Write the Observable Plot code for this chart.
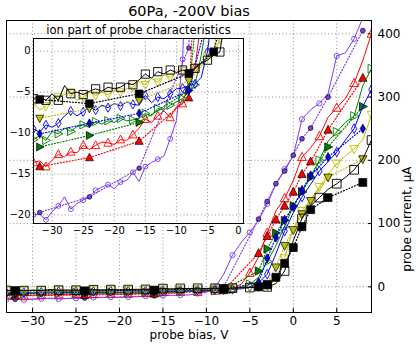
<!DOCTYPE html>
<html><head><meta charset="utf-8">
<script src="https://cdn.jsdelivr.net/npm/d3@7"></script>
<script src="https://cdn.jsdelivr.net/npm/@observablehq/plot@0.6"></script>
<style>
body{margin:0;background:#fff;}
#wrap{position:relative;width:416px;height:344px;overflow:hidden;}
#wrap svg{position:absolute;}
</style></head><body><div id="wrap"></div>
<script>
// ---------- data ----------
const biasFine = [-33,-32,-31,-30,-29,-28,-27,-26,-25,-24,-23,-22,-21,-20,-19,-18,-17,-16,-15,-14,-13,-12,-11,-10,-9,-8,-7,-6,-5,-4,-3,-2,-1,0,1,2,3,4,5,6,7,8,9];
const biasCoarse = [-32,-24,-16,-8,-4,-3,-2,-1,0,1,2,4,8];

const blackFine  = [-5.8,-5.5,-6.0,-5.2,-6.0,-4.2,-5.2,-5.0,-5.3,-4.9,-4.6,-4.9,-4.4,-4.6,-4.4,-3.9,-4.1,-3.5,-2.8,-3.3,-2.5,-2.8,-2.3,-2.6,-2.3,-2.4,-2.1,-1.5,-1.1,-0.5,-0.1,5,25,73,108,128,141,154,163,173,185,202,232];
const yellowFine = [-6.3,-7.2,-6.7,-5.8,-5.6,-5.3,-5.0,-6.0,-5.6,-5.0,-5.4,-5.0,-5.3,-4.8,-5.0,-4.6,-4.4,-3.7,-4.1,-3.3,-3.8,-2.9,-3.2,-2.6,-2.4,-2.5,-2.0,-1.5,-0.7,-0.5,1.5,10,45,92,120,138,158,178,195,207,218,232,272];
const blueFine   = [-9.5,-9.9,-9.0,-9.3,-8.8,-7.9,-7.3,-7.9,-7.4,-6.8,-7.2,-6.6,-6.9,-6.4,-6.7,-6.2,-6.5,-6.6,-5.4,-6.3,-5.6,-5.8,-5.2,-4.6,-4.5,-4.2,-4.0,-3.2,-0.1,6,20,52,88,117,142,162,183,198,213,232,250,285,312];
const greenFine  = [-10.8,-10.3,-10.9,-9.8,-10.1,-9.4,-9.8,-9.2,-9.0,-9.3,-8.6,-8.9,-8.5,-8.7,-8.2,-8.5,-8.4,-8.2,-7.6,-7.9,-7.0,-7.2,-6.6,-6.2,-5.8,-5.0,-4.1,-0.5,4,15,40,65,95,128,150,175,200,230,245,260,270,318,345];
const redFine    = [-13.6,-13.4,-14.1,-13.3,-12.6,-12.9,-12.3,-12.4,-11.5,-12.0,-11.5,-11.1,-11.2,-11.4,-10.8,-10.9,-10.2,-9.4,-8.3,-8.7,-7.9,-7.3,-8.1,-6.8,-6.4,-3.7,-2,4,22,47,85,120,140,168,205,220,238,268,283,298,322,358,400];
const purpleFine = [-20.0,-19.9,-20.6,-19.6,-18.9,-17.8,-19.3,-18.6,-18.2,-17.8,-17.0,-16.6,-16.3,-16.8,-16.0,-15.8,-14.8,-15.9,-14.1,-13.6,-13.2,-12.8,-10.7,-8.5,-1,20,50,70,86,105,131,162,186,207,265,280,290,305,365,370,392,425,445];

const blackCoarse  = [-5.9,-6.4,-5.2,-2.7,-0.1,3,15,37,62,95,122,141,165];
const yellowCoarse = [-8.2,-7.0,-6.0,-3.6,0,5,31,65,90,115,136,173,202];
const blueCoarse   = [-10.1,-8.8,-7.6,-4.8,7,45,78,106,126,153,176,205,250];
const greenCoarse  = [-11.7,-10.3,-8.7,-4.8,25,60,85,105,128,150,173,221,285];
const redCoarse    = [-14.1,-13.0,-11.0,-5.7,53,80,106,128,150,178,198,248,330];
const purpleCoarse = [-19.7,-17.8,-14.3,0.4,107,135,163,183,208,234,251,300,405];

const xTicksMain = [-30,-25,-20,-15,-10,-5,0,5];
const yTicksMain = [0,100,200,300,400];
const xTicksInset = [-30,-25,-20,-15,-10,-5,0];
const yTicksInset = [0,-5,-10,-15,-20];

const titleMain = "60Pa, -200V bias";
const titleInset = "ion part of probe characteristics";
const xLabel = "probe bias, V";
const yLabel = "probe current, μA";

// ---------- symbols ----------
function poly(pts){return {draw(ctx,size){const r=Math.sqrt(size/Math.PI);ctx.moveTo(pts[0][0]*r,pts[0][1]*r);for(let i=1;i<pts.length;i++)ctx.lineTo(pts[i][0]*r,pts[i][1]*r);ctx.closePath();}};}
const symSquare = poly([[-0.9,-0.9],[0.9,-0.9],[0.9,0.9],[-0.9,0.9]]);
const symUp = poly([[0,-1.05],[0.95,0.75],[-0.95,0.75]]);
const symDown = poly([[0,1.05],[0.95,-0.75],[-0.95,-0.75]]);
const symRight = poly([[1.05,0],[-0.75,-0.95],[-0.75,0.95]]);
const symDiamond = poly([[0,-1.05],[0.6,0],[0,1.05],[-0.6,0]]);
const symCircle = {draw(ctx,size){const r=Math.sqrt(size/Math.PI);ctx.moveTo(r,0);ctx.arc(0,0,r,0,2*Math.PI);}};

const series = [
  {fine: purpleFine, coarse: purpleCoarse, color: "#7a3df0", sym: symCircle, rOpen: 2.6, rFill: 2.4},
  {fine: redFine, coarse: redCoarse, color: "#ff0000", sym: symUp, rOpen: 4.6, rFill: 4.4},
  {fine: greenFine, coarse: greenCoarse, color: "#008000", sym: symRight, rOpen: 4.6, rFill: 4.4},
  {fine: blueFine, coarse: blueCoarse, color: "#0000ff", sym: symDiamond, rOpen: 4.6, rFill: 4.4},
  {fine: yellowFine, coarse: yellowCoarse, color: "#bfbf00", sym: symDown, rOpen: 4.6, rFill: 4.4},
  {fine: blackFine, coarse: blackCoarse, color: "#000000", sym: symSquare, rOpen: 4.8, rFill: 4.4}
];

const fmt = d => d < 0 ? "\u2212" + Math.abs(d) : String(d);
const font = "DejaVu Sans";

function seriesMarks(scaleR){
  const m = [];
  for (const s of series){
    const fine = biasFine.map((x,i)=>({x, y: s.fine[i]}));
    const coarse = biasCoarse.map((x,i)=>({x, y: s.coarse[i]}));
    const openPts = fine.filter((d,i)=>i%2===0);
    m.push(Plot.line(fine, {x:"x", y:"y", stroke: s.color, strokeWidth: 1, clip: true}));
    m.push(Plot.dot(openPts, {x:"x", y:"y", symbol: s.sym, r: s.rOpen*scaleR, fill: "none", stroke: s.color, strokeWidth: 0.9, clip: true}));
    m.push(Plot.line(coarse, {x:"x", y:"y", stroke: s.color, strokeWidth: 1.2, strokeDasharray: "1,2", clip: true}));
    m.push(Plot.dot(coarse, {x:"x", y:"y", symbol: s.sym, r: s.rFill*scaleR, fill: s.color, stroke: "black", strokeWidth: 0.7, clip: true}));
  }
  return m;
}

const gridStyle = {stroke: "#000", strokeOpacity: 0.55, strokeWidth: 0.8, strokeDasharray: "1,2.5"};

const main = Plot.plot({
  width: 416, height: 344,
  marginLeft: 6, marginRight: 45, marginTop: 20, marginBottom: 32,
  style: {fontFamily: font, fontSize: "12px", background: "white", color: "black"},
  x: {domain: [-33, 9], ticks: xTicksMain, tickFormat: fmt, tickSize: -4, tickPadding: 8, label: null},
  y: {domain: [-40.6, 421], ticks: yTicksMain, tickFormat: fmt, axis: "right", tickSize: -4, tickPadding: 10, label: null},
  marks: [
    Plot.ruleX(xTicksMain, gridStyle),
    Plot.ruleY(yTicksMain, gridStyle),
    ...seriesMarks(1),
    Plot.frame({stroke: "black"}),
    Plot.text([titleMain], {text: d=>d, frameAnchor: "top", lineAnchor: "middle", dy: -9, fontSize: 14.5}),
    Plot.text([xLabel], {text: d=>d, frameAnchor: "bottom", lineAnchor: "middle", dy: 23, fontSize: 12}),
    Plot.text([yLabel], {text: d=>d, frameAnchor: "right", lineAnchor: "middle", dx: 36, rotate: -90, fontSize: 12})
  ]
});
main.style.left = "0px"; main.style.top = "0px";

const inset = Plot.plot({
  width: 242, height: 217,
  marginLeft: 30, marginRight: 2, marginTop: 16, marginBottom: 16,
  style: {fontFamily: font, fontSize: "10px", background: "transparent", color: "black", overflow: "visible"},
  x: {domain: [-33, 0.8], ticks: xTicksInset, tickFormat: fmt, tickSize: -3, tickPadding: 6, label: null},
  y: {domain: [-21.05, 1.55], ticks: yTicksInset, tickFormat: fmt, tickSize: -3, tickPadding: 6, label: null},
  marks: [
    Plot.frame({fill: "white"}),
    Plot.ruleX(xTicksInset, gridStyle),
    Plot.ruleY(yTicksInset, gridStyle),
    ...seriesMarks(0.95),
    Plot.frame({stroke: "black"}),
    Plot.text([titleInset], {text: d=>d, frameAnchor: "top", lineAnchor: "middle", dy: -8, fontSize: 11.5})
  ]
});
inset.style.left = "3px"; inset.style.top = "22px";

const wrap = document.getElementById("wrap");
wrap.appendChild(main);
wrap.appendChild(inset);
</script>
</body></html>
